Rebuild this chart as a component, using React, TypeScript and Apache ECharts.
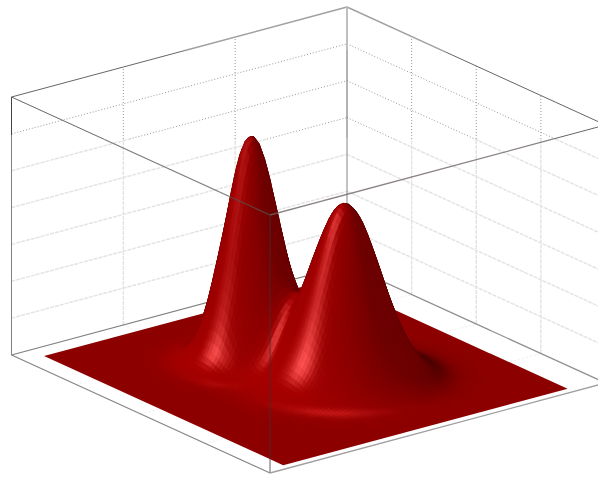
import React, { useEffect, useRef } from "react";
import * as echarts from "echarts";

// Surface heights, in thousandths of the box height.
// Rows run along the box's left-to-front floor edge, columns along its front-to-right floor edge.
const surfaceHeights: number[][] = [
  [0,0,0,0,0,0,0,0,0,0,0,0,0,0,0,0,0,0,0,0,0,0,0,0,0],
  [0,0,0,0,0,0,0,0,0,0,0,0,0,0,0,0,0,0,0,0,0,0,0,0,0],
  [0,0,0,0,0,0,0,0,0,0,0,0,0,0,0,0,0,0,0,0,0,0,0,0,0],
  [0,0,0,0,0,0,0,1,2,3,4,5,3,2,1,0,0,0,0,0,0,0,0,0,0],
  [0,0,0,0,0,0,1,4,10,20,27,28,20,11,4,1,0,0,0,0,0,0,0,0,0],
  [0,0,0,0,0,1,4,16,42,81,113,114,84,45,18,5,1,0,0,0,0,0,0,0,0],
  [0,0,0,0,0,3,13,46,121,232,323,327,241,129,50,14,3,0,0,0,0,0,0,0,0],
  [0,0,0,0,1,5,25,90,236,452,630,638,471,253,100,29,7,2,0,0,0,0,0,0,0],
  [0,0,0,0,1,7,33,120,315,603,842,855,633,344,140,44,12,4,1,0,0,0,0,0,0],
  [0,0,0,0,1,6,31,110,290,556,779,796,599,337,149,57,23,10,4,2,1,0,0,0,0],
  [0,0,0,0,1,4,20,71,188,362,514,542,434,278,157,87,49,26,12,5,2,0,0,0,0],
  [0,0,0,0,0,2,10,36,96,190,286,330,310,255,200,150,103,57,27,11,4,1,0,0,0],
  [0,0,0,0,0,2,7,22,58,123,212,295,350,370,340,281,188,106,50,20,7,2,0,0,0],
  [0,0,0,0,0,2,7,22,58,130,242,378,500,559,528,421,282,160,76,30,10,3,1,0,0],
  [0,0,0,0,0,2,8,25,67,150,284,451,604,682,646,516,347,196,94,37,13,4,1,0,0],
  [0,0,0,0,0,2,8,25,66,149,282,449,603,681,646,516,347,196,94,37,13,4,1,0,0],
  [0,0,0,0,0,2,6,20,54,121,230,366,491,554,526,420,282,160,76,30,10,3,1,0,0],
  [0,0,0,0,0,1,4,13,36,80,152,242,325,367,348,278,187,106,50,20,7,2,0,0,0],
  [0,0,0,0,0,1,2,7,19,43,82,131,176,198,188,150,101,57,27,11,4,1,0,0,0],
  [0,0,0,0,0,0,1,3,8,19,36,58,77,87,83,66,44,25,12,5,2,0,0,0,0],
  [0,0,0,0,0,0,0,1,3,7,13,21,28,31,30,24,16,9,4,2,1,0,0,0,0],
  [0,0,0,0,0,0,0,0,1,2,4,6,8,9,9,7,5,3,1,0,0,0,0,0,0],
  [0,0,0,0,0,0,0,0,0,0,1,1,2,2,2,2,1,1,0,0,0,0,0,0,0],
  [0,0,0,0,0,0,0,0,0,0,0,0,0,0,0,0,0,0,0,0,0,0,0,0,0],
  [0,0,0,0,0,0,0,0,0,0,0,0,0,0,0,0,0,0,0,0,0,0,0,0,0],
];

const zGridLevels = [1, 2, 3, 4, 5, 6].map((k) => k / 7);
const leftWallDivisions = [1 / 3, 2 / 3];
const rightWallDivisions = [1 / 4, 2 / 4, 3 / 4];

// Orthographic view: box coordinates (s, t, z), each 0..1, to picture coordinates.
const ORIGIN = [11.5, 355];
const S_AXIS = [258.5, 118];
const T_AXIS = [335.5, -90];
const Z_PX = 258;
const project = (s: number, t: number, z: number): number[] => [
  ORIGIN[0] + S_AXIS[0] * s + T_AXIS[0] * t,
  ORIGIN[1] + S_AXIS[1] * s + T_AXIS[1] * t - Z_PX * z,
];

const SURF_S = [0.052, 0.977];
const SURF_T = [0.057, 0.905];
const SURF_Z_SCALE = 0.978;
const REFINE = 4;

const norm = (v: number[]) => {
  const l = Math.hypot(v[0], v[1], v[2]);
  return [v[0] / l, v[1] / l, v[2] / l];
};
const dot = (a: number[], b: number[]) => a[0] * b[0] + a[1] * b[1] + a[2] * b[2];

const VIEW = norm([0.686, -0.528, 0.498]);
const DIFFUSE_DIR = norm([-0.1, -0.75, 0.62]);
const RING_DIR = norm([0.24, -0.24, 0.94]);
const STREAK_DIR = norm([0.2, -0.92, 0.34]);
const SHADOW_DIR = norm([0.15, 0.55, 0.82]);

const cr = (a: number, b: number, c: number, d: number, f: number) =>
  0.5 * (2 * b + (c - a) * f + (2 * a - 5 * b + 4 * c - d) * f * f + (3 * b - a - 3 * c + d) * f * f * f);

function sampleGrid(u: number, v: number): number {
  const n = surfaceHeights.length - 1;
  const iu = Math.min(n - 1, Math.floor(u));
  const iv = Math.min(n - 1, Math.floor(v));
  const at = (i: number, j: number) =>
    surfaceHeights[Math.max(0, Math.min(n, i))][Math.max(0, Math.min(n, j))];
  const col = [-1, 0, 1, 2].map((di) =>
    cr(at(iu + di, iv - 1), at(iu + di, iv), at(iu + di, iv + 1), at(iu + di, iv + 2), v - iv),
  );
  return (Math.max(0, cr(col[0], col[1], col[2], col[3], u - iu)) / 1000) * SURF_Z_SCALE;
}

function buildMesh() {
  const n = (surfaceHeights.length - 1) * REFINE;
  const ds = (SURF_S[1] - SURF_S[0]) / n;
  const dt = (SURF_T[1] - SURF_T[0]) / n;
  const zs: number[][] = [];
  for (let i = 0; i <= n; i++) {
    const row: number[] = [];
    for (let j = 0; j <= n; j++) row.push(sampleGrid(i / REFINE, j / REFINE));
    zs.push(row);
  }
  const points: number[][][] = [];
  const shades: number[][][] = [];
  for (let i = 0; i <= n; i++) {
    const pr: number[][] = [];
    const sr: number[][] = [];
    for (let j = 0; j <= n; j++) {
      const s = SURF_S[0] + ds * i;
      const t = SURF_T[0] + dt * j;
      pr.push(project(s, t, zs[i][j]));
      const i0 = Math.max(0, i - 1), i1 = Math.min(n, i + 1);
      const j0 = Math.max(0, j - 1), j1 = Math.min(n, j + 1);
      const gs = (zs[i1][j] - zs[i0][j]) / ((i1 - i0) * ds);
      const gt = (zs[i][j1] - zs[i][j0]) / ((j1 - j0) * dt);
      const N = norm([-gs, -gt, 1]);
      const diff = Math.max(0, dot(N, DIFFUSE_DIR));
      const ring = Math.pow(Math.max(0, dot(N, RING_DIR)), 90);
      const streak = Math.pow(Math.max(0, dot(N, STREAK_DIR)), 60);
      const shadow = Math.pow(Math.max(0, dot(N, SHADOW_DIR)), 10);
      const rim = 0.86 + 0.14 * Math.min(1, Math.max(0, dot(N, VIEW)) / 0.25);
      const r = (109 + 58 * diff) * rim + 45 * ring + 95 * streak - 34 * shadow;
      const gb = 24 * ring + 84 * streak;
      sr.push([Math.min(255, r), Math.min(255, gb), Math.min(255, gb)]);
    }
    points.push(pr);
    shades.push(sr);
  }
  const cells: number[][] = [];
  for (let i = 0; i < n; i++) {
    for (let j = n - 1; j >= 0; j--) {
      const maxZ = Math.max(zs[i][j], zs[i + 1][j], zs[i][j + 1], zs[i + 1][j + 1]);
      if (maxZ > 0.0003) cells.push([i, j]);
    }
  }
  return { points, shades, cells };
}

const EDGE_DARK = "#666666";
const EDGE_SOFT = "#a0a0a0";
const EDGE_OVER = "rgba(60,50,50,0.78)";

type P3 = number[];
const A: P3 = [0, 0, 1], B: P3 = [0, 1, 1], C: P3 = [1, 1, 1], D: P3 = [1, 0, 1];
const E: P3 = [0, 0, 0], H: P3 = [0, 1, 0], G: P3 = [1, 1, 0], F: P3 = [1, 0, 0];

const CRISP_Y = 139;

export default function App() {
  const ref = useRef<HTMLDivElement>(null);
  useEffect(() => {
    const chart = echarts.init(ref.current!, null, { renderer: "svg" });
    const mesh = buildMesh();

    // [p, q, colour, width, dash]
    type Seg = [number[], number[], string, number, number[] | null];
    const mix = (p: P3, q: P3, f: number) => [
      p[0] + (q[0] - p[0]) * f,
      p[1] + (q[1] - p[1]) * f,
      p[2] + (q[2] - p[2]) * f,
    ];
    const dotted = (p: P3, q: P3): Seg[] => {
      // Dotted grid line: crisp above the y where the picture turns soft, pale below.
      const a = project(p[0], p[1], p[2]);
      const b = project(q[0], q[1], q[2]);
      const crisp = "#999999";
      const soft = "#e4e4e4";
      const hiY = Math.min(a[1], b[1]), loY = Math.max(a[1], b[1]);
      if (loY <= CRISP_Y) return [[p, q, crisp, 1, [1, 2]]];
      if (hiY >= CRISP_Y) return [[p, q, soft, 1.5, [4, 1]]];
      const f = (CRISP_Y - a[1]) / (b[1] - a[1]);
      const m = mix(p, q, f);
      return a[1] < b[1]
        ? [[p, m, crisp, 1, [1, 2]], [m, q, soft, 1.5, [4, 1]]]
        : [[p, m, soft, 1.5, [4, 1]], [m, q, crisp, 1, [1, 2]]];
    };

    const back: Seg[] = [];
    zGridLevels.forEach((z) => {
      back.push(...dotted([0, 0, z], [0, 1, z]));
      back.push(...dotted([0, 1, z], [1, 1, z]));
    });
    leftWallDivisions.forEach((t) => back.push(...dotted([0, t, 0], [0, t, 1])));
    rightWallDivisions.forEach((s) => back.push(...dotted([s, 1, 0], [s, 1, 1])));
    leftWallDivisions.forEach((t) => back.push([[0, t, 0], [1, t, 0], "#efefef", 1, [2, 2]]));
    rightWallDivisions.forEach((s) => back.push([[s, 0, 0], [s, 1, 0], "#efefef", 1, [2, 2]]));
    back.push(
      [A, mix(A, B, 0.517), EDGE_DARK, 1, null],
      [mix(A, B, 0.517), B, EDGE_SOFT, 1.4, null],
      [B, mix(B, C, 0.38), EDGE_SOFT, 1.4, null],
      [mix(B, C, 0.38), C, EDGE_DARK, 1, null],
      [A, mix(A, E, 0.15), "#444444", 1, null],
      [mix(A, E, 0.15), E, "#808080", 1, null],
      [B, mix(B, H, 0.167), "#b8b8b8", 1.8, null],
      [mix(B, H, 0.167), mix(B, H, 0.51), "#666666", 1, null],
      [mix(B, H, 0.51), H, "#a8a8a8", 1.4, null],
      [E, H, "#808080", 1.2, null],
      [H, G, "#909090", 1.3, null],
    );
    const front: Seg[] = [
      [A, mix(A, D, 0.36), EDGE_DARK, 1, null],
      [mix(A, D, 0.36), D, "rgba(90,80,80,0.75)", 1.3, null],
      [D, mix(D, C, 0.845), "rgba(110,100,100,0.8)", 1.3, null],
      [mix(D, C, 0.845), C, EDGE_DARK, 1, null],
      [D, F, EDGE_OVER, 1, null],
      [E, F, "#858585", 1.2, null],
      [F, G, "#a0a0a0", 1.3, null],
    ];

    const segItem = (api: any, seg: Seg) => {
      const a = api.coord(project(seg[0][0], seg[0][1], seg[0][2]));
      const b = api.coord(project(seg[1][0], seg[1][1], seg[1][2]));
      return {
        type: "line",
        shape: { x1: a[0], y1: a[1], x2: b[0], y2: b[1] },
        style: { stroke: seg[2], lineWidth: seg[3], lineDash: seg[4] || undefined, fill: "none" },
      };
    };

    const floorCorners = [
      [SURF_S[0], SURF_T[0]],
      [SURF_S[1], SURF_T[0]],
      [SURF_S[1], SURF_T[1]],
      [SURF_S[0], SURF_T[1]],
    ];
    const floorFill = (() => {
      const c = mesh.shades[0][0];
      return `rgb(${Math.round(c[0])},${Math.round(c[1])},${Math.round(c[2])})`;
    })();

    chart.setOption({
      animation: false,
      grid: { left: 0, right: 0, top: 0, bottom: 0 },
      xAxis: { type: "value", min: 0, max: 598, show: false },
      yAxis: { type: "value", min: 0, max: 477, inverse: true, show: false },
      series: [
        {
          type: "custom",
          silent: true,
          clip: false,
          z: 1,
          data: back.map((_, i) => [i, 0]),
          renderItem: (params: any, api: any) => segItem(api, back[params.dataIndex]),
        },
        {
          type: "custom",
          silent: true,
          clip: false,
          z: 2,
          data: [[0, 0]],
          renderItem: (_p: any, api: any) => ({
            type: "polygon",
            shape: { points: floorCorners.map((c) => api.coord(project(c[0], c[1], 0))) },
            style: { fill: floorFill },
          }),
        },
        {
          type: "custom",
          silent: true,
          clip: false,
          z: 3,
          data: mesh.cells,
          renderItem: (params: any, api: any) => {
            const [i, j] = mesh.cells[params.dataIndex];
            const corners = [[i, j], [i + 1, j], [i + 1, j + 1], [i, j + 1]];
            const col = [0, 0, 0];
            corners.forEach(([a, b]) => {
              for (let k = 0; k < 3; k++) col[k] += mesh.shades[a][b][k] / 4;
            });
            const fill = `rgb(${Math.round(col[0])},${Math.round(col[1])},${Math.round(col[2])})`;
            return {
              type: "polygon",
              shape: { points: corners.map(([a, b]) => api.coord(mesh.points[a][b])) },
              style: { fill, stroke: fill, lineWidth: 0.7 },
            };
          },
        },
        {
          type: "custom",
          silent: true,
          clip: false,
          z: 4,
          data: front.map((_, i) => [i, 0]),
          renderItem: (params: any, api: any) => segItem(api, front[params.dataIndex]),
        },
      ],
    });
    return () => chart.dispose();
  }, []);
  return <div ref={ref} style={{ position: "absolute", left: 0, top: 0, width: 598, height: 477 }} />;
}
